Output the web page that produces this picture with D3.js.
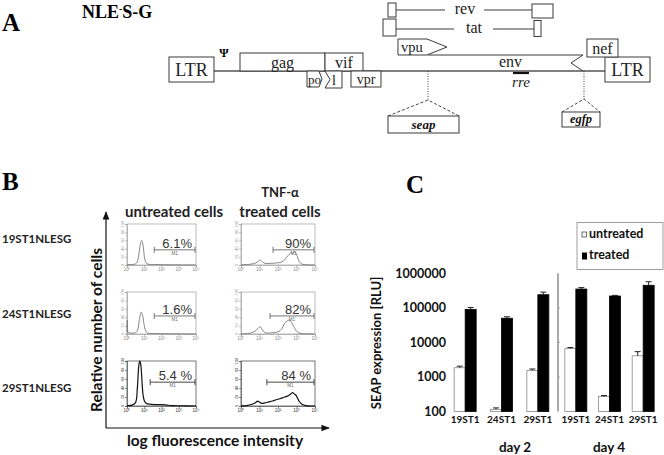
<!DOCTYPE html>
<html><head><meta charset="utf-8">
<script src="https://cdn.jsdelivr.net/npm/d3@7/dist/d3.min.js"></script>
<style>body{margin:0;background:#fff}svg{display:block}</style>
</head><body><svg id="fig" width="664" height="455"></svg>
<script>
// ---------------- DATA ----------------
// Panel A: provirus map (approximate bp along a 9.7 kb genome)
const genomeLength = 9700;
const ltrs = [[0, 907], [8792, 9700]];
const onLineGenes = [{name: "gag", s: 1432, e: 3146}, {name: "vif", s: 3146, e: 3912}];
const envGene = {name: "env", s: 5223, e: 8349};
const belowGenes = [{name: "po", s: 2783, e: 3085}, {name: "l", s: 3146, e: 3489}, {name: "vpr", s: 3670, e: 4275}];
const vpuGene = {name: "vpu", s: 4618, e: 5606};
const nefGene = {name: "nef", s: 8429, e: 9054};
const revExons = [[4416, 4578], [7320, 7744]];
const tatExons = [[4316, 4578], [7361, 7502]];
const rreSegment = [6937, 7260];
const inserts = [{name: "seap", site: 5223}, {name: "egfp", site: 8369}];

// Panel B: flow cytometry histograms ([log10 fluorescence, % of max])
const sampleNames = ["19ST1NLESG", "24ST1NLESG", "29ST1NLESG"];
const conditions = ["untreated cells", "treated cells"];
const histUntreated = [
  [[0,1],[0.3,1],[0.5,3],[0.6,8],[0.7,30],[0.78,52],[0.85,60],[0.9,55],[0.96,38],[1.03,15],[1.12,4],[1.3,1.5],[1.8,1],[2.5,0.5],[4,0]],
  [[0,2],[0.02,33],[0.05,5],[0.1,3],[0.3,2],[0.5,3],[0.62,10],[0.72,35],[0.82,52],[0.9,45],[0.98,25],[1.08,8],[1.2,2],[1.6,1],[2.5,0.5],[4,0]],
  [[0,1],[0.3,2],[0.5,8],[0.6,40],[0.68,88],[0.74,100],[0.8,92],[0.86,60],[0.93,25],[1.0,12],[1.1,6],[1.3,4],[1.6,3],[2.0,3],[2.3,2],[2.6,1],[3,0.5],[4,0]]
];
const histTreated = [
  [[0,0.5],[0.5,2],[0.8,5],[0.95,10],[1.05,12],[1.15,8],[1.3,4],[1.6,4],[1.9,5],[2.1,6],[2.3,10],[2.45,18],[2.6,26],[2.72,30],[2.8,28],[2.88,33],[2.95,30],[3.05,20],[3.15,8],[3.3,2],[3.6,0.5],[4,0]],
  [[0,0.5],[0.5,2],[0.8,8],[0.95,15],[1.05,17],[1.15,10],[1.3,3],[1.7,3],[2.0,5],[2.2,12],[2.35,25],[2.5,31],[2.6,33],[2.7,30],[2.8,22],[2.95,10],[3.1,3],[3.3,1],[4,0]],
  [[0,0.5],[0.3,1],[0.6,4],[0.8,8],[0.9,11],[1.0,9],[1.1,6],[1.3,7],[1.5,9],[1.7,11],[1.9,14],[2.1,16],[2.3,19],[2.5,22],[2.6,24],[2.7,27],[2.8,30],[2.87,27],[2.95,25],[3.05,18],[3.15,10],[3.3,4],[3.5,1],[4,0]]
];
const pctUntreated = ["6.1%", "1.6%", "5.4 %"];
const pctTreated = ["90%", "82%", "84 %"];
const gateUntreated = [38, 38, 22];
const gateTreated = [54, 37, 25];
const histXTicks = ["10\u2070", "10\u00b9", "10\u00b2", "10\u00b3", "10\u2074"];
const histYTicks = [0, 20, 40, 60, 80, 100];

// Panel C: SEAP expression (RLU)
const cellLines = ["19ST1", "24ST1", "29ST1"];
const days = ["day 2", "day 4"];
const untreatedDay2 = [1850, 115, 1550];
const treatedDay2 = [90000, 50000, 240000];
const untreatedDay4 = [6600, 270, 4100];
const treatedDay4 = [350000, 220000, 450000];
const errUntreatedDay2 = [200, 12, 150];
const errTreatedDay2 = [12000, 5000, 45000];
const errUntreatedDay4 = [500, 20, 1300];
const errTreatedDay4 = [35000, 10000, 120000];
const yTicksC = [100, 1000, 10000, 100000, 1000000];
const legendLabels = ["untreated", "treated"];

// ---------------- DRAW ----------------
const svg = d3.select("#fig");
svg.append("rect").attr("width", 664).attr("height", 455).attr("fill", "#fff");
const SERIF = "'Liberation Serif','Times New Roman',serif";
const SANS = "Lato,'Open Sans',sans-serif";
const ARIAL = "'Liberation Sans',Arial,sans-serif";

// ===== Panel A =====
const A = svg.append("g");
const gx = d3.scaleLinear().domain([0, genomeLength]).range([169, 650]);
const lineY = 71, stroke = "#3a3a3a";
A.append("text").attr("x", 2).attr("y", 31).attr("font-family", SERIF).attr("font-weight", "bold").attr("font-size", 25).text("A");
const title = A.append("text").attr("x", 82).attr("y", 18).attr("font-family", SERIF).attr("font-weight", "bold").attr("font-size", 18);
title.append("tspan").text("NLE");
title.append("tspan").attr("dy", -6).attr("font-size", 10).text("-");
title.append("tspan").attr("dy", 6).text("S-G");

// main line
A.append("line").attr("x1", gx(ltrs[0][1])).attr("x2", gx(ltrs[1][0])).attr("y1", lineY).attr("y2", lineY).attr("stroke", "#555").attr("stroke-width", 1.6);
// LTRs
A.selectAll(".ltr").data(ltrs).join("rect").attr("x", d => gx(d[0])).attr("width", d => gx(d[1]) - gx(d[0]))
  .attr("y", 57).attr("height", 25).attr("fill", "#fff").attr("stroke", stroke).attr("stroke-width", 1);
A.selectAll(".ltrt").data(ltrs).join("text").attr("x", d => (gx(d[0]) + gx(d[1])) / 2).attr("y", 76).attr("text-anchor", "middle")
  .attr("font-family", SERIF).attr("font-size", 18).attr("fill", "#222").text("LTR");
A.append("text").attr("x", 224).attr("y", 57).attr("text-anchor", "middle").attr("font-family", SERIF).attr("font-weight", "bold").attr("font-size", 12).text("\u03a8");
// gag, vif
A.selectAll(".og").data(onLineGenes).join("rect").attr("x", d => gx(d.s)).attr("width", d => gx(d.e) - gx(d.s))
  .attr("y", 53).attr("height", lineY - 53).attr("fill", "#fff").attr("stroke", stroke);
A.selectAll(".ogt").data(onLineGenes).join("text").attr("x", d => (gx(d.s) + gx(d.e)) / 2).attr("y", 68).attr("text-anchor", "middle")
  .attr("font-family", SERIF).attr("font-size", 16).attr("fill", "#222").text(d => d.name);
// env with notched right end
{
  const x0 = gx(envGene.s), x1 = gx(envGene.e);
  A.append("path").attr("d", `M${x0},55 L${x1},55 L${x1 - 12},63 L${x1},71`).attr("fill", "none").attr("stroke", stroke);
  A.append("text").attr("x", (x0 + x1) / 2 + 5).attr("y", 67).attr("text-anchor", "middle").attr("font-family", SERIF).attr("font-size", 16).attr("fill", "#222").text(envGene.name);
}
// below-line genes
{
  const [po, l, vpr] = belowGenes;
  const a = gx(po.s), b = gx(po.e);
  A.append("path").attr("d", `M${a},${lineY} L${b - 3},${lineY} L${b},79 L${b - 3},87 L${a},87 Z`).attr("fill", "#fff").attr("stroke", stroke);
  A.append("text").attr("x", a + 1).attr("y", 84).attr("font-family", SERIF).attr("font-size", 13).attr("fill", "#222").text(po.name);
  const c = gx(l.s), d = gx(l.e);
  A.append("path").attr("d", `M${c},${lineY} L${d},${lineY} L${d},88 L${c},88 L${c + 5},79.5 Z`).attr("fill", "#fff").attr("stroke", stroke);
  A.append("text").attr("x", c + 9).attr("y", 85).attr("text-anchor", "middle").attr("font-family", SERIF).attr("font-size", 14).attr("fill", "#222").text(l.name);
  const e = gx(vpr.s), f = gx(vpr.e);
  A.append("rect").attr("x", e).attr("y", lineY).attr("width", f - e).attr("height", 16).attr("fill", "#fff").attr("stroke", stroke);
  A.append("text").attr("x", (e + f) / 2).attr("y", 84).attr("text-anchor", "middle").attr("font-family", SERIF).attr("font-size", 14).attr("fill", "#222").text(vpr.name);
}
// vpu arrow
{
  const a = gx(vpuGene.s), b = gx(vpuGene.e);
  A.append("path").attr("d", `M${a},39 L${b - 20},39 L${b},47 L${b - 20},55 L${a},55 Z`).attr("fill", "#fff").attr("stroke", stroke);
  A.append("text").attr("x", a + 14).attr("y", 52).attr("text-anchor", "middle").attr("font-family", SERIF).attr("font-size", 14.5).attr("fill", "#222").text(vpuGene.name);
}
// nef
{
  const a = gx(nefGene.s), b = gx(nefGene.e);
  A.append("rect").attr("x", a).attr("y", 39).attr("width", b - a).attr("height", 18).attr("fill", "#fff").attr("stroke", stroke);
  A.append("text").attr("x", (a + b) / 2).attr("y", 54).attr("text-anchor", "middle").attr("font-family", SERIF).attr("font-size", 16).attr("fill", "#222").text(nefGene.name);
}
// rev / tat spliced genes
function spliced(exons, name, y0, h1, h2, ly, tx) {
  const [e1, e2] = exons;
  A.append("rect").attr("x", gx(e1[0])).attr("y", y0).attr("width", gx(e1[1]) - gx(e1[0])).attr("height", h1).attr("fill", "#fff").attr("stroke", stroke);
  A.append("rect").attr("x", gx(e2[0])).attr("y", y0 + (h1 - h2) / 2 + 1).attr("width", gx(e2[1]) - gx(e2[0])).attr("height", h2).attr("fill", "#fff").attr("stroke", stroke);
  A.append("line").attr("x1", gx(e1[1])).attr("x2", tx - 20).attr("y1", ly).attr("y2", ly).attr("stroke", stroke);
  A.append("line").attr("x1", tx + 19).attr("x2", gx(e2[0])).attr("y1", ly).attr("y2", ly).attr("stroke", stroke);
  A.append("text").attr("x", tx).attr("y", ly + 4).attr("text-anchor", "middle").attr("font-family", SERIF).attr("font-size", 16).attr("fill", "#222").text(name);
}
spliced(revExons, "rev", 3, 14, 14, 10, 465);
spliced(tatExons, "tat", 19, 17, 16, 29, 474);
// rre
A.append("line").attr("x1", gx(rreSegment[0])).attr("x2", gx(rreSegment[1])).attr("y1", 73).attr("y2", 73).attr("stroke", "#111").attr("stroke-width", 2.2);
A.append("text").attr("x", (gx(rreSegment[0]) + gx(rreSegment[1])) / 2).attr("y", 87).attr("text-anchor", "middle").attr("font-family", SERIF).attr("font-style", "italic").attr("font-size", 15).attr("fill", "#222").text("rre");
// inserts
{
  const geo = [{drop: 100, top: 116, w: 71, h: 17, fs: 13}, {drop: 99, top: 112, w: 38, h: 15, fs: 12.5}];
  inserts.forEach((ins, i) => {
    const x = gx(ins.site), g = geo[i];
    const lx = i === 0 ? x - 40 : x - 22;
    A.append("line").attr("x1", x).attr("x2", x).attr("y1", lineY).attr("y2", g.drop).attr("stroke", "#444").attr("stroke-dasharray", "1,1.5");
    A.append("path").attr("d", `M${lx},${g.top} L${x},${g.drop} L${lx + g.w},${g.top}`).attr("fill", "none").attr("stroke", "#444").attr("stroke-dasharray", "3,2");
    A.append("rect").attr("x", lx).attr("y", g.top).attr("width", g.w).attr("height", g.h).attr("fill", "#fff").attr("stroke", stroke);
    A.append("text").attr("x", lx + g.w / 2).attr("y", g.top + g.h - 4).attr("text-anchor", "middle").attr("font-family", SERIF).attr("font-style", "italic").attr("font-weight", "bold").attr("font-size", g.fs).attr("fill", "#111").text(ins.name);
  });
}

// ===== Panel B =====
const B = svg.append("g");
B.append("text").attr("x", 2).attr("y", 190).attr("font-family", SERIF).attr("font-weight", "bold").attr("font-size", 25).text("B");
B.append("text").attr("x", 174).attr("y", 217).attr("text-anchor", "middle").attr("font-family", SANS).attr("font-weight", 700).attr("font-size", 15).attr("fill", "#222").text(conditions[0]);
B.append("text").attr("x", 280).attr("y", 197).attr("text-anchor", "middle").attr("font-family", SANS).attr("font-weight", 700).attr("font-size", 13).attr("fill", "#222").text("TNF-\u03b1");
B.append("text").attr("x", 280).attr("y", 217).attr("text-anchor", "middle").attr("font-family", SANS).attr("font-weight", 700).attr("font-size", 15).attr("fill", "#222").text(conditions[1]);
const rowTops = [224, 292, 361], rowBottoms = [265, 334, 406];
B.selectAll(".rl").data(sampleNames).join("text").attr("x", 2).attr("y", (d, i) => [243, 318, 392][i])
  .attr("font-family", SANS).attr("font-weight", 700).attr("font-size", 11.5).attr("fill", "#222").text(d => d);
// axes arrows
B.append("defs").append("marker").attr("id", "arr").attr("viewBox", "0 0 10 10").attr("refX", 9).attr("refY", 5)
  .attr("markerWidth", 7).attr("markerHeight", 7).attr("orient", "auto").append("path").attr("d", "M0,1 L10,5 L0,9 Z").attr("fill", "#111");
B.append("line").attr("x1", 106).attr("y1", 428).attr("x2", 106).attr("y2", 212).attr("stroke", "#111").attr("stroke-width", 1.2).attr("marker-end", "url(#arr)");
B.append("line").attr("x1", 106).attr("y1", 428).attr("x2", 329).attr("y2", 428).attr("stroke", "#111").attr("stroke-width", 1.2).attr("marker-end", "url(#arr)");
B.append("text").attr("transform", "translate(102,330) rotate(-90)").attr("text-anchor", "middle").attr("font-family", SANS).attr("font-weight", 700).attr("font-size", 15.5).attr("fill", "#111").text("Relative number of cells");
B.append("text").attr("x", 215).attr("y", 446).attr("text-anchor", "middle").attr("font-family", SANS).attr("font-weight", 700).attr("font-size", 15.5).attr("fill", "#111").text("log fluorescence intensity");

function histogram(x0, x1, y0, y1, data, gate, pct, dark, rowIdx) {
  const g = B.append("g");
  const xs = d3.scaleLog().domain([1, 1e4]).range([x0, x1]);
  const ys = d3.scaleLinear().domain([0, 100]).range([y1, y0]);
  g.append("rect").attr("x", x0).attr("y", y0).attr("width", x1 - x0).attr("height", y1 - y0).attr("fill", "none").attr("stroke", dark ? "#555" : "#aaa").attr("stroke-width", 0.8);
  const xa = g.append("g").attr("transform", `translate(0,${y1})`).call(d3.axisBottom(xs).ticks(4).tickSize(2).tickFormat(""));
  xa.selectAll("path,line").attr("stroke", dark ? "#444" : "#999").attr("stroke-width", 0.6);
  g.selectAll(".xt").data(histXTicks).join("text").attr("x", (d, i) => xs(Math.pow(10, i))).attr("y", y1 + 6).attr("text-anchor", "middle")
    .attr("font-family", ARIAL).attr("font-size", 4.5).attr("fill", dark ? "#333" : "#888").text(d => d);
  const ya = g.append("g").attr("transform", `translate(${x0},0)`).call(d3.axisLeft(ys).tickValues(histYTicks).tickSize(2).tickFormat(""));
  ya.selectAll("path,line").attr("stroke", dark ? "#444" : "#999").attr("stroke-width", 0.6);
  g.selectAll(".yt").data(histYTicks).join("text").attr("transform", d => `translate(${x0 - 3},${ys(d)}) rotate(-90)`).attr("text-anchor", "middle")
    .attr("font-family", ARIAL).attr("font-size", 3.8).attr("fill", dark ? "#333" : "#999").text(d => d);
  const line = d3.line().x(d => xs(Math.pow(10, d[0]))).y(d => ys(d[1])).curve(d3.curveCatmullRom.alpha(0.5));
  g.append("path").datum(data).attr("d", line).attr("fill", "none").attr("stroke", dark ? "#111" : "#777").attr("stroke-width", dark ? 1.2 : 0.9);
  // gate marker
  const gy = y0 + (y1 - y0) * [0.63, 0.57, 0.47][rowIdx];
  const gx0 = xs(gate), gx1 = x1 - 1;
  g.append("line").attr("x1", gx0).attr("x2", gx1).attr("y1", gy).attr("y2", gy).attr("stroke", dark ? "#333" : "#666").attr("stroke-width", 0.9);
  [gx0, gx1].forEach(x => g.append("line").attr("x1", x).attr("x2", x).attr("y1", gy - 3).attr("y2", gy + 3).attr("stroke", dark ? "#333" : "#666").attr("stroke-width", 0.9));
  g.append("text").attr("x", (gx0 + gx1) / 2).attr("y", gy + 5).attr("text-anchor", "middle").attr("font-family", ARIAL).attr("font-size", 4.5).attr("fill", "#666").text("M1");
  g.append("text").attr("x", x1 - 4).attr("y", gy - 2).attr("text-anchor", "end").attr("font-family", ARIAL).attr("font-size", 13).attr("fill", "#333").text(pct);
}
for (let r = 0; r < 3; r++) {
  histogram(127, 196, rowTops[r], rowBottoms[r], histUntreated[r], gateUntreated[r], pctUntreated[r], r === 2, r);
  histogram(241, 315, rowTops[r], rowBottoms[r], histTreated[r], gateTreated[r], pctTreated[r], r === 2, r);
}

// ===== Panel C =====
const C = svg.append("g");
C.append("text").attr("x", 406).attr("y", 193).attr("font-family", SERIF).attr("font-weight", "bold").attr("font-size", 25).text("C");
const yC = d3.scaleLog().domain([100, 1e6]).range([411.5, 273.3]);
const dayRanges = [[447, 556], [559, 660]];
const xDay = dayRanges.map(r => d3.scaleBand().domain(cellLines).range(r));
const barW = 11;
const yAxisC = C.append("g").attr("transform", "translate(448,0)").call(d3.axisLeft(yC).tickValues(yTicksC).tickSize(0).tickFormat(d3.format("d")));
yAxisC.select(".domain").remove();
yAxisC.selectAll("text").attr("font-family", SANS).attr("font-weight", 700).attr("font-size", 12.5).attr("fill", "#111").attr("x", -2);
C.append("text").attr("transform", "translate(381,343) rotate(-90)").attr("text-anchor", "middle").attr("font-family", SANS).attr("font-weight", 700).attr("font-size", 13).attr("fill", "#111").text("SEAP expression [RLU]");
// separator with minor ticks
const sepX = 558;
C.append("line").attr("x1", sepX).attr("x2", sepX).attr("y1", yC(1e6)).attr("y2", yC(100)).attr("stroke", "#555").attr("stroke-width", 1);
C.selectAll(".sept").data(yTicksC.slice(1, -1)).join("line").attr("x1", sepX).attr("x2", sepX + 2).attr("y1", d => yC(d)).attr("y2", d => yC(d)).attr("stroke", "#999").attr("stroke-width", 0.8);

const dayData = [
  {u: untreatedDay2, t: treatedDay2, eu: errUntreatedDay2, et: errTreatedDay2},
  {u: untreatedDay4, t: treatedDay4, eu: errUntreatedDay4, et: errTreatedDay4}
];
dayData.forEach((dd, di) => {
  const xb = xDay[di];
  const G = C.append("g");
  cellLines.forEach((cl, ci) => {
    const cx = xb(cl) + xb.bandwidth() / 2;
    const bars = [
      {v: dd.u[ci], e: dd.eu[ci], x: cx - barW, fill: "#fff", st: "#888"},
      {v: dd.t[ci], e: dd.et[ci], x: cx, fill: "#000", st: "#000"}
    ];
    bars.forEach(b => {
      G.append("rect").attr("x", b.x).attr("y", yC(b.v)).attr("width", barW).attr("height", yC(100) - yC(b.v)).attr("fill", b.fill).attr("stroke", b.st).attr("stroke-width", 0.8);
      const mid = b.x + barW / 2;
      G.append("line").attr("x1", mid).attr("x2", mid).attr("y1", yC(b.v)).attr("y2", yC(b.v + b.e)).attr("stroke", "#222").attr("stroke-width", 1);
      G.append("line").attr("x1", mid - 3).attr("x2", mid + 3).attr("y1", yC(b.v + b.e)).attr("y2", yC(b.v + b.e)).attr("stroke", "#222").attr("stroke-width", 1);
    });
    G.append("text").attr("x", cx).attr("y", 423).attr("text-anchor", "middle").attr("font-family", SANS).attr("font-weight", 700).attr("font-size", 10).attr("fill", "#111").text(cl);
  });
  C.append("text").attr("x", [515, 609][di]).attr("y", 452).attr("text-anchor", "middle").attr("font-family", SANS).attr("font-weight", 700).attr("font-size", 13.5).attr("fill", "#111").text(days[di]);
});
// legend
const L = C.append("g");
L.append("rect").attr("x", 577).attr("y", 222.5).attr("width", 86).attr("height", 47).attr("fill", "#fff").attr("stroke", "#888").attr("stroke-width", 0.8);
L.append("rect").attr("x", 582).attr("y", 232).attr("width", 4.5).attr("height", 5).attr("fill", "#fff").attr("stroke", "#333").attr("stroke-width", 0.7);
L.append("rect").attr("x", 582).attr("y", 252.5).attr("width", 5).attr("height", 7).attr("fill", "#000");
L.selectAll(".lt").data(legendLabels).join("text").attr("x", 589).attr("y", (d, i) => [238, 259][i]).attr("font-family", SANS).attr("font-weight", 700).attr("font-size", 12.5).attr("fill", "#111").text(d => d);
</script></body></html>
